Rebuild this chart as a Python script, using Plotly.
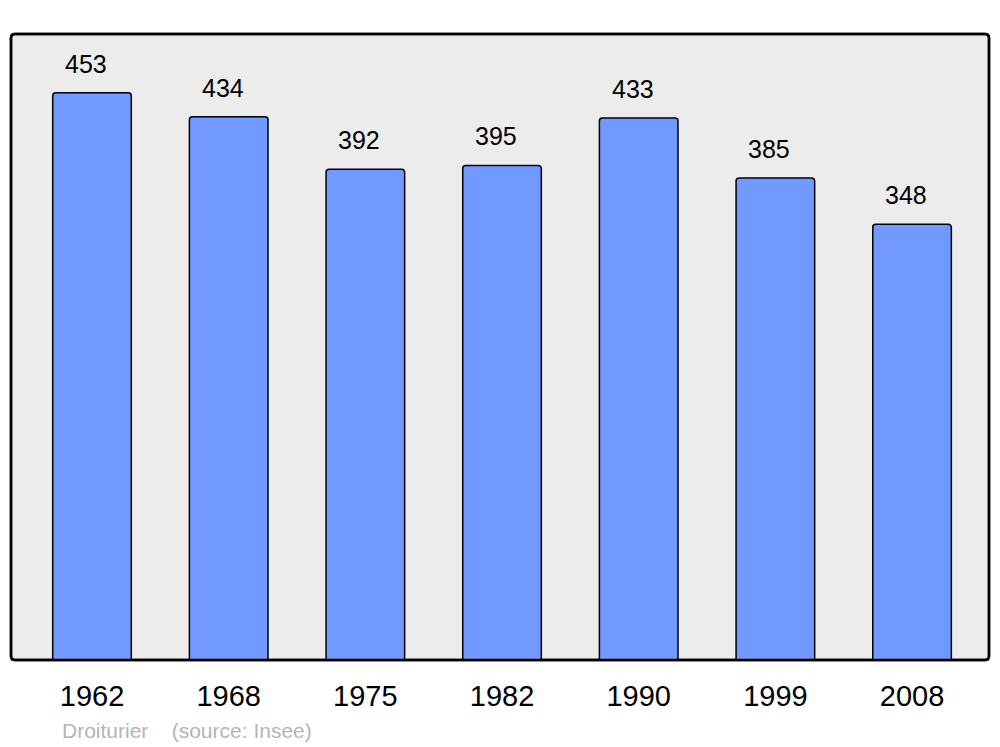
import plotly.graph_objects as go

years = ["1962", "1968", "1975", "1982", "1990", "1999", "2008"]
population = [453, 434, 392, 395, 433, 385, 348]
footer_author = "Droiturier"
footer_source = "(source: Insee)"

xs = list(range(len(years)))
FONT = "Liberation Sans, Arial, sans-serif"

fig = go.Figure()
fig.add_trace(go.Bar(
    x=xs, y=population, width=0.575,
    marker=dict(color="#7299FF", line=dict(color="black", width=1.5), cornerradius=3),
    hoverinfo="skip",
))

for x, v in zip(xs, population):
    fig.add_annotation(x=x, y=v, text=str(v), showarrow=False, yanchor="bottom",
                       xshift=-6, yshift=13,
                       font=dict(family=FONT, size=25, color="black"))

# rounded plot-area frame (paper coordinates)
W, H = 978.0, 626.0
rx, ry = 4 / W, 4 / H
path = (f"M {rx},0 L {1-rx},0 Q 1,0 1,{ry} L 1,{1-ry} Q 1,1 {1-rx},1 "
        f"L {rx},1 Q 0,1 0,{1-ry} L 0,{ry} Q 0,0 {rx},0 Z")
fig.add_shape(type="path", xref="paper", yref="paper", path=path,
              fillcolor="#ECECEC", line=dict(color="black", width=2.5), layer="below")
fig.add_shape(type="path", xref="paper", yref="paper", path=path,
              fillcolor="rgba(0,0,0,0)", line=dict(color="black", width=2.5), layer="above")

fig.add_annotation(xref="paper", yref="paper", x=(60 - 11) / W, y=(660 - 730) / H,
                   xanchor="left", yanchor="middle", showarrow=False,
                   text=footer_author + "\u00a0\u00a0\u00a0\u00a0" + footer_source,
                   font=dict(family=FONT, size=21, color="#B5B5B5"))

fig.update_layout(
    width=992, height=739,
    margin=dict(l=3, r=11, t=26, b=87),
    paper_bgcolor="white", plot_bgcolor="rgba(0,0,0,0)",
    showlegend=False,
    xaxis=dict(range=[-0.5927, 6.563], tickvals=xs, ticktext=years,
               showgrid=False, zeroline=False, showline=False,
               ticks="outside", ticklen=10, tickcolor="rgba(0,0,0,0)",
               tickfont=dict(family=FONT, size=29, color="black"),
               fixedrange=True),
    yaxis=dict(range=[0, 500], showgrid=False, zeroline=False, showline=False,
               showticklabels=False, fixedrange=True),
    font=dict(family=FONT),
)

fig.write_html("out.html")
